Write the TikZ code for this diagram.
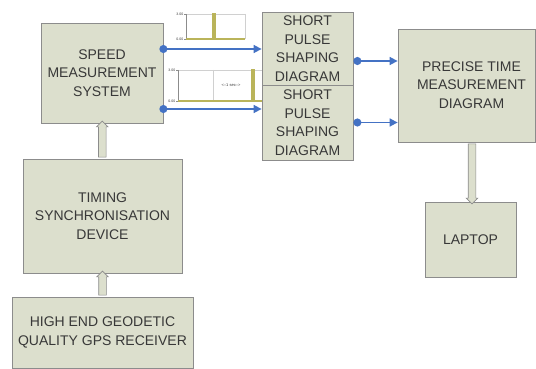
\documentclass[tikz,border=0pt]{standalone}
\usepackage{fontspec}
\setmainfont{Liberation Sans}
\usetikzlibrary{arrows.meta,shapes.arrows,calc}

\definecolor{boxfill}{HTML}{DCDFCD}
\definecolor{boxline}{HTML}{8C8C8C}
\definecolor{boxtext}{HTML}{383838}
\definecolor{sigblue}{HTML}{4472C4}
\definecolor{pulse}{HTML}{BAB45A}
\definecolor{grid}{HTML}{D0D0D0}

\begin{document}
\begin{tikzpicture}[x=1pt,y=-1pt,
  every node/.style={inner sep=0pt,text=boxtext},
  block/.style={draw=boxline,fill=boxfill,line width=0.8pt,align=center,
    font=\fontsize{14}{18.5}\selectfont},
  blockarrow/.style={single arrow,draw=boxline,fill=boxfill,line width=0.6pt,
    inner sep=3.5pt,single arrow head extend=2pt,single arrow head indent=0pt},
  sig/.style={draw=sigblue,line width=1.6pt,
    {Circle[length=8pt]}-{Triangle[length=8pt,width=8pt]}},
  tick/.style={font=\fontsize{3.5}{4}\selectfont,anchor=east}]
\useasboundingbox (0,0) rectangle (536,369);

% boxes
\node[block,minimum width=122pt,minimum height=100pt] (sms) at (102,73)
  {SPEED\\MEASUREMENT\\SYSTEM};
\node[block,minimum width=159pt,minimum height=114pt] (tsd) at (102.5,216)
  {TIMING\\SYNCHRONISATION\\DEVICE};
\node[block,minimum width=181pt,minimum height=71pt] (gps) at (102.5,332.5)
  {HIGH END GEODETIC\\QUALITY GPS RECEIVER};
\node[block,minimum width=91pt,minimum height=73pt] (sp1) at (307.5,48.5)
  {SHORT\\PULSE\\SHAPING\\DIAGRAM};
\node[block,minimum width=91pt,minimum height=75pt] (sp2) at (307.5,122.5)
  {SHORT\\PULSE\\SHAPING\\DIAGRAM};
\node[block,minimum width=137pt,minimum height=113pt] (ptm) at (466.5,85.5) {};
\node[block,draw=none,fill=none] (ptmtext) at (471.5,85)
  {PRECISE TIME\\MEASUREMENT\\DIAGRAM};
\node[block,minimum width=91pt,minimum height=75pt] (lap) at (470.5,239.5) {LAPTOP};

% block arrows
\node[blockarrow,minimum height=24pt,rotate=90] (a1) at ($(gps.north)!0.5!(tsd.south)$) {};
\node[blockarrow,minimum height=36pt,rotate=90] (a2) at ($(tsd.north)!0.5!(sms.south)$) {};
\node[blockarrow,minimum height=60pt,rotate=-90] (a3)
  at ($($(ptm.south)!0.5!(lap.north)$)+(3.5,0)$) {};

% pulse charts
\draw[grid,line width=0.4pt] (186,14) -- (245,14) (214,14) -- (214,39) (245,14) -- (245,39);
\draw[boxline,line width=0.4pt] (186,14) -- (186,39) (184,14) -- (186,14) (184,39) -- (186,39);
\draw[pulse,line width=1.2pt] (186,39) -- (213,39) -- (213,14) -- (215,14) -- (215,39) -- (245,39);
\node[tick] at (183.5,14) {3.00};
\node[tick] at (183.5,39) {0.00};

\draw[grid,line width=0.4pt] (178,70) -- (262,70) (213,70) -- (213,101);
\draw[boxline,line width=0.4pt] (178,70) -- (178,101) (176,70) -- (178,70) (176,101) -- (178,101);
\draw[pulse,line width=1.4pt] (178,101) -- (252,101) -- (252,70) -- (254,70) -- (254,101) -- (262,101);
\node[tick] at (175.5,70) {3.00};
\node[tick] at (175.5,101) {0.00};
\node[font=\fontsize{4}{5}\selectfont] at (231,85) {<--1 sec-->};

% signal arrows
\coordinate (s1) at ([yshift=24pt]sms.east);
\coordinate (s2) at ([yshift=-36pt]sms.east);
\draw[sig,shorten <=-4pt] (s1) -- (s1 -| sp1.west);
\draw[sig,shorten <=-4pt] (s2) -- (s2 -| sp2.west);
\coordinate (p1) at ([yshift=-12.5pt]sp1.east);
\coordinate (p2) at (sp2.east);
\draw[sig] (p1) -- (p1 -| ptm.west);
\draw[sig] (p2) -- (p2 -| ptm.west);
\end{tikzpicture}
\end{document}
